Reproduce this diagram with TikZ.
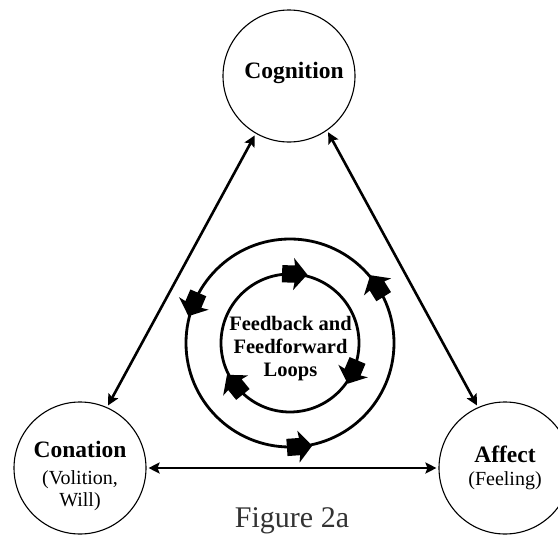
\documentclass[tikz,border=0pt]{standalone}
\usepackage{fontspec}
\setmainfont{Liberation Serif}
\usetikzlibrary{arrows.meta}
\newcommand\cptitle{\bfseries\fontsize{23.5}{26}\selectfont}
\newcommand\cpsub{\fontsize{20}{22}\selectfont}
\newcommand\cploop{\bfseries\fontsize{20.5}{23}\selectfont}
\begin{document}
\begin{tikzpicture}[x=1pt,y=1pt,
  concept/.style={circle, draw, line width=1.1pt, minimum size=132pt, inner sep=0pt},
  word/.style={anchor=base, inner sep=0pt},
  link/.style={{Stealth[length=11pt,width=11pt,inset=2pt]}-{Stealth[length=11pt,width=11pt,inset=2pt]},
    line width=2.6pt, shorten <=2pt, shorten >=2pt},
  ring/.style={circle, draw, line width=2.8pt, outer sep=0pt, inner sep=0pt},
  loopmark/.pic={\fill[scale=1.15] (-9,-7.5) -- (2,-7.5) -- (1,-14) -- (13,0) -- (1,14) -- (2,7.5) -- (-9,7.5) -- cycle;}]
\useasboundingbox (0,0) rectangle (558,-536);
\clip (0,0) rectangle (558,-536);
\fill[white] (0,0) rectangle (558,-536);

% the three faculties
\node[concept] (cog) at (289,-76) {};
\node[concept] (con) at (80,-468) {};
\node[concept] (aff) at (505,-468) {};

\node[word, font=\cptitle] (cogT) at (294,-78) {Cognition};
\node[word, font=\cptitle] (conT) at (80,-457) {Conation};
\node[word, font=\cpsub]   (conS1) at (80,-484) {(Volition,};
\node[word, font=\cpsub]   (conS2) at (80,-506) {Will)};
\node[word, font=\cptitle] (affT) at (505,-462) {Affect};
\node[word, font=\cpsub]   (affS) at (505,-485) {(Feeling)};

% two-way links between them
\draw[link] (cog.240) -- (con.66);
\draw[link] (cog.305) -- (aff.114);
\draw[link] (con.east) -- (aff.west);

% concentric feedback loops
\node[ring, minimum size=208pt] (outer) at (290,-343) {};
\node[ring, minimum size=138pt] (inner) at (290,-343) {};
\node[word, font=\cploop] (loopA) at (290.5,-330) {Feedback and};
\node[word, font=\cploop] (loopB) at (290.5,-353) {Feedforward};
\node[word, font=\cploop] (loopC) at (290.5,-376) {Loops};

% outer loop runs counterclockwise
\pic[rotate=247] at (outer.157) {loopmark};
\pic[rotate=4]   at (outer.274) {loopmark};
\pic[rotate=122] at (outer.32)  {loopmark};
% inner loop runs clockwise
\pic[rotate=-2]  at (inner.88)  {loopmark};
\pic[rotate=-113] at (inner.337) {loopmark};
\pic[rotate=129] at (inner.219) {loopmark};

\node[word, font=\fontsize{30}{30}\selectfont, text=black!80] (caption) at (292,-527) {Figure 2a};
\end{tikzpicture}
\end{document}
